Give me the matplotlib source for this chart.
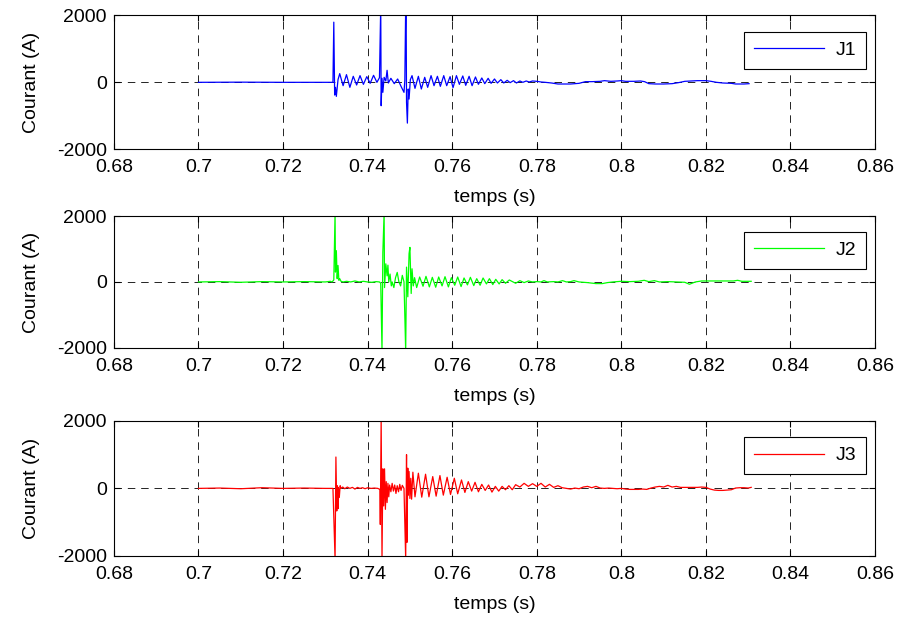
import matplotlib
matplotlib.use("Agg")
import matplotlib.pyplot as plt
from matplotlib.ticker import FixedLocator, FuncFormatter

plt.rcParams["font.family"] = ["Liberation Sans", "DejaVu Sans"]

# ---------------- data (time in s, current in A) ----------------
t_j1 = [
    0.7000, 0.7100, 0.7200, 0.7318, 0.7320, 0.7322, 0.7324, 0.7326, 0.7330, 0.7334,
    0.7342, 0.7350, 0.7358, 0.7366, 0.7374, 0.7382, 0.7390, 0.7398, 0.7406, 0.7414,
    0.7422, 0.7428, 0.7431, 0.7432, 0.7434, 0.7436, 0.7439, 0.7443, 0.7446, 0.7449,
    0.7455, 0.7463, 0.7471, 0.7479, 0.7486, 0.7488, 0.7490, 0.7491, 0.7492, 0.7494,
    0.7496, 0.7498, 0.7501, 0.7505, 0.7512, 0.7520, 0.7527, 0.7535, 0.7542, 0.7550,
    0.7557, 0.7565, 0.7572, 0.7580, 0.7587, 0.7595, 0.7602, 0.7610, 0.7617, 0.7625,
    0.7632, 0.7640, 0.7647, 0.7655, 0.7662, 0.7670, 0.7677, 0.7685, 0.7692, 0.7700,
    0.7707, 0.7715, 0.7722, 0.7730, 0.7737, 0.7745, 0.7752, 0.7760, 0.7767, 0.7775,
    0.7782, 0.7790, 0.7800, 0.7810, 0.7820, 0.7835, 0.7850, 0.7865, 0.7880, 0.7900,
    0.7915, 0.7930, 0.7950, 0.7960, 0.7975, 0.7990, 0.8000, 0.8010, 0.8030, 0.8045,
    0.8055, 0.8065, 0.8080, 0.8100, 0.8120, 0.8135, 0.8150, 0.8165, 0.8180, 0.8200,
    0.8212, 0.8225, 0.8240, 0.8260, 0.8270, 0.8290, 0.8302,
]
i_j1 = [
    0, 5, 0, 0, 1800, -380, -150, -420, 80, 260,
    -100, 230, -150, 180, -80, 200, -60, 170, -30, 210,
    0, 140, 2300, -700, 120, -300, 150, 40, 360, -20,
    120, -40, 100, -120, -300, 60, 2300, 2300, -600, -1220,
    -200, -500, 80, 200, -180, 180, -200, 150, -150, 200,
    -100, 180, -120, 200, -100, 170, -160, 200, -60, 190,
    -90, 180, -100, 160, -60, 130, -40, 120, -30, 100,
    -20, 80, -20, 60, -10, 50, -20, 40, 0, 40,
    10, 40, 30, 10, 0, -20, -50, -50, -50, -30,
    20, 20, 30, 50, 30, 40, 50, 30, 30, 40,
    20, -40, -50, -50, -40, -10, 30, 40, 50, 50,
    30, 0, -20, -30, -50, -50, -40,
]

t_j2 = [
    0.7000, 0.7050, 0.7100, 0.7150, 0.7200, 0.7250, 0.7300, 0.7312, 0.7316, 0.7320,
    0.7323, 0.7324, 0.7326, 0.7328, 0.7330, 0.7332, 0.7334, 0.7337, 0.7342, 0.7350,
    0.7360, 0.7370, 0.7380, 0.7390, 0.7400, 0.7410, 0.7420, 0.7428, 0.7431, 0.7434,
    0.7436, 0.7439, 0.7440, 0.7443, 0.7446, 0.7448, 0.7450, 0.7453, 0.7456, 0.7458,
    0.7462, 0.7466, 0.7470, 0.7474, 0.7478, 0.7482, 0.7486, 0.7490, 0.7492, 0.7495,
    0.7498, 0.7500, 0.7503, 0.7505, 0.7508, 0.7511, 0.7516, 0.7523, 0.7531, 0.7538,
    0.7546, 0.7553, 0.7561, 0.7568, 0.7576, 0.7583, 0.7591, 0.7598, 0.7606, 0.7613,
    0.7621, 0.7628, 0.7636, 0.7643, 0.7651, 0.7658, 0.7666, 0.7673, 0.7681, 0.7688,
    0.7696, 0.7703, 0.7711, 0.7718, 0.7726, 0.7735, 0.7750, 0.7760, 0.7770, 0.7780,
    0.7790, 0.7800, 0.7810, 0.7817, 0.7825, 0.7840, 0.7850, 0.7861, 0.7870, 0.7880,
    0.7888, 0.7900, 0.7920, 0.7940, 0.7955, 0.7967, 0.7980, 0.8000, 0.8020, 0.8040,
    0.8054, 0.8065, 0.8078, 0.8090, 0.8110, 0.8130, 0.8150, 0.8161, 0.8175, 0.8190,
    0.8210, 0.8230, 0.8250, 0.8265, 0.8275, 0.8285, 0.8307,
]
i_j2 = [
    0, 10, -10, 10, 0, 10, 0, 20, 0, 60,
    2100, 300, 950, 100, 500, 50, 100, 20, 0, 20,
    0, 30, 0, 20, 0, -10, 10, 0, -40, -2100,
    900, 2100, -170, 550, 185, 510, 0, 240, -120, 0,
    -170, 130, 290, 0, -120, 200, 0, -2100, 450, -450,
    860, 1050, -350, 400, -120, 130, -170, 150, -130, 170,
    -150, 140, -160, 150, -120, 160, -150, 130, -100, 150,
    -140, 120, -90, 140, -110, 100, -100, 120, -60, 100,
    -80, 80, -60, 70, -40, 60, -40, 40, -20, 30,
    0, 10, 0, 40, 0, 10, 0, 40, 0, 10,
    40, 0, -20, -50, -50, -20, 0, 20, 10, 20,
    50, 10, 40, 0, 10, 0, -10, -70, 0, 30,
    30, 30, 30, 30, 50, 20, 20,
]

t_j3 = [
    0.7000, 0.7050, 0.7100, 0.7150, 0.7200, 0.7250, 0.7300, 0.7318, 0.7323, 0.7325,
    0.7327, 0.7328, 0.7330, 0.7331, 0.7333, 0.7335, 0.7337, 0.7341, 0.7346, 0.7352,
    0.7358, 0.7364, 0.7370, 0.7376, 0.7382, 0.7388, 0.7394, 0.7400, 0.7408, 0.7416,
    0.7424, 0.7429, 0.7430, 0.7432, 0.7434, 0.7436, 0.7438, 0.7440, 0.7442, 0.7444,
    0.7446, 0.7448, 0.7450, 0.7452, 0.7455, 0.7458, 0.7461, 0.7464, 0.7467, 0.7470,
    0.7473, 0.7476, 0.7479, 0.7482, 0.7486, 0.7490, 0.7492, 0.7493, 0.7495, 0.7496,
    0.7498, 0.7500, 0.7502, 0.7504, 0.7507, 0.7512, 0.7520, 0.7528, 0.7537, 0.7545,
    0.7554, 0.7562, 0.7571, 0.7579, 0.7588, 0.7596, 0.7605, 0.7613, 0.7622, 0.7630,
    0.7638, 0.7646, 0.7654, 0.7662, 0.7670, 0.7678, 0.7686, 0.7694, 0.7702, 0.7710,
    0.7718, 0.7726, 0.7734, 0.7742, 0.7750, 0.7760, 0.7770, 0.7780, 0.7790, 0.7800,
    0.7810, 0.7820, 0.7830, 0.7840, 0.7850, 0.7860, 0.7870, 0.7880, 0.7890, 0.7900,
    0.7910, 0.7920, 0.7930, 0.7940, 0.7950, 0.7960, 0.7970, 0.7980, 0.7990, 0.8000,
    0.8010, 0.8020, 0.8030, 0.8040, 0.8050, 0.8060, 0.8070, 0.8080, 0.8090, 0.8100,
    0.8110, 0.8120, 0.8130, 0.8140, 0.8150, 0.8160, 0.8170, 0.8180, 0.8190, 0.8200,
    0.8210, 0.8220, 0.8230, 0.8240, 0.8250, 0.8260, 0.8270, 0.8280, 0.8290, 0.8300,
    0.8307,
]
i_j3 = [
    0, 10, -10, 20, 0, 10, 0, 0, -2100, 930,
    -670, 80, -600, 30, -270, 80, 0, 40, -10, 40,
    0, 30, -20, 30, 0, 20, -10, 20, 0, 10,
    0, -30, -1070, 2100, -2100, 580, -520, 580, -620, 200,
    -420, 150, -250, 100, -100, 150, -80, 100, -150, 80,
    -100, 120, -60, 90, 0, -2100, 1000, -1600, 600, -200,
    500, -300, 300, -320, 480, -250, 450, -260, 420, -250,
    350, -230, 380, -200, 330, -180, 300, -160, 250, -120,
    200, -80, 180, -100, 120, -60, 100, -110, 60, -80,
    60, -40, 80, -40, 110, 40, 150, 60, 140, 60,
    150, 40, 120, 30, 80, 20, 0, -20, 10, -10,
    40, 60, 20, 60, 10, 0, 10, 0, -10, 0,
    -20, -30, -30, -30, -20, -30, 10, 40, 60, 40,
    90, 40, 60, 30, 30, 30, 30, 30, 40, 30,
    -20, -50, -60, -60, -50, -40, 10, 20, 20, 10,
    30,
]

series = [("J1", t_j1, i_j1, (0, 0, 1)),
          ("J2", t_j2, i_j2, (0, 1, 0)),
          ("J3", t_j3, i_j3, (1, 0, 0))]

x_ticks = [0.68, 0.70, 0.72, 0.74, 0.76, 0.78, 0.80, 0.82, 0.84, 0.86]
y_ticks = [-2000, 0, 2000]

# axes rectangles in figure fraction (left, bottom, width, height)
rects = [(0.126, 0.759, 0.842, 0.216),
         (0.126, 0.438, 0.842, 0.213),
         (0.126, 0.102, 0.842, 0.218)]

fig = plt.figure(figsize=(9.04, 6.19), dpi=100)

for (name, t, cur, col), rect in zip(series, rects):
    ax = fig.add_axes(rect)
    ax.plot(t, cur, color=col, linewidth=0.9, label=name)
    ax.set_xlim(0.68, 0.86)
    ax.set_ylim(-2000, 2000)
    ax.xaxis.set_major_locator(FixedLocator(x_ticks))
    ax.yaxis.set_major_locator(FixedLocator(y_ticks))
    ax.xaxis.set_major_formatter(FuncFormatter(lambda v, p: f"{v:g}"))
    ax.yaxis.set_major_formatter(FuncFormatter(lambda v, p: f"{v:g}"))
    ax.grid(True, color="black", linestyle=(0, (9, 7)), linewidth=0.6)
    ax.tick_params(direction="in", top=True, right=True, length=4, width=0.8,
                   labelsize=14)
    ax.tick_params(axis="x", pad=7)
    ax.tick_params(axis="y", pad=5)
    for s in ax.spines.values():
        s.set_linewidth(0.8)
    ax.set_xlabel("temps (s)", fontsize=14, labelpad=9.5)
    ax.set_ylabel("Courant (A)", fontsize=14, labelpad=12)
    leg = ax.legend(loc="upper right", bbox_to_anchor=(0.988, 0.88), borderaxespad=0,
                    fancybox=False, edgecolor="black", framealpha=1, fontsize=14,
                    handlelength=3.6, borderpad=0.5, handletextpad=0.6)
    leg.get_frame().set_linewidth(0.8)

fig.savefig("out.png", dpi=100)
